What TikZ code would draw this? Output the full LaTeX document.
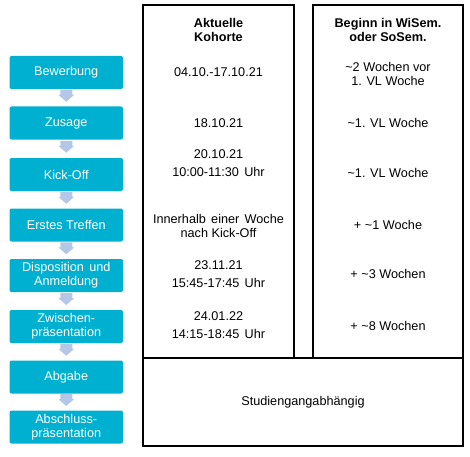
\documentclass[tikz,border=0pt]{standalone}
\usepackage{fontspec}
\setmainfont{Liberation Sans}
\usetikzlibrary{calc}
\definecolor{boxblue}{RGB}{0,176,208}
\definecolor{arrowblue}{RGB}{180,199,231}
\newcommand{\fsz}{\fontsize{9.5pt}{10.5pt}\selectfont}
\newcommand{\fdt}{\fontsize{9.5pt}{13.9pt}\selectfont}
\newcommand{\wsp}{\hspace{0.42em}}
\begin{document}
\begin{tikzpicture}[x=0.75pt,y=-0.75pt,
  stage/.style={fill=boxblue, rounded corners=1.5pt, minimum width=85.1pt, minimum height=24.75pt,
    text=white, font=\fsz, align=center, inner sep=0pt},
  txt/.style={font=\fsz, align=center, inner sep=0pt},
  hdr/.style={font=\fsz\bfseries, align=center, inner sep=0pt},
  dt/.style={font=\fdt, align=center, inner sep=0pt},
  frame/.style={draw=black, line width=0.8pt},
  flow/.style={fill=arrowblue}]
\useasboundingbox (0,0) rectangle (470,456);

% stages
\node[stage] (s1) at (66.25,72.5) {Bewerbung};
\node[stage] (s2) at (66.25,123) {Zusage};
\node[stage] (s3) at (66.25,174.5) {Kick-Off};
\node[stage] (s4) at (66.25,225) {Erstes Treffen};
\node[stage] (s5) at (66.25,275.5) {Disposition\wsp und\\Anmeldung};
\node[stage] (s6) at (66.25,326.5) {Zwischen-\\präsentation};
\node[stage] (s7) at (66.25,377) {Abgabe};
\node[stage] (s8) at (66.25,427) {Abschluss-\\präsentation};

% block arrows between stages
\foreach \a/\b in {s1/s2,s2/s3,s3/s4,s4/s5,s5/s6,s6/s7,s7/s8}{
  \path (\a.south) -- (\b.north) coordinate[midway] (m);
  \fill[flow] (m) ++(-6,-8) -- ++(12,0) -- ++(0,5) -- ++(2,0) -- ++(-8,7) -- ++(-8,-7) -- ++(2,0) -- cycle;
}

% frames
\draw[frame] (143,5) rectangle (294,358);
\draw[frame] (313,5) rectangle (463,358);
\draw[frame] (143,358) rectangle (463,446);

% headers
\node[hdr] (h1) at (218.5,30) {Aktuelle\\Kohorte};
\node[hdr] (h2) at (388,30) {Beginn in WiSem.\\oder SoSem.};

% column texts
\node[txt] (a1) at (218.5,71.7) {04.10.-17.10.21};
\node[txt] (b1) at (388,73.7) {\textasciitilde 2 Wochen vor\\1. VL Woche};
\node[txt] (a2) at (218.5,123.3) {18.10.21};
\node[txt] (b2) at (388,123.3) {\textasciitilde 1. VL Woche};
\node[dt] (a3) at (218.5,163.3) {20.10.21\\10:00-11:30\wsp Uhr};
\node[txt] (b3) at (388,173.3) {\textasciitilde 1. VL Woche};
\node[txt] (a4) at (218.5,226.2) {Innerhalb\wsp einer\wsp Woche\\nach Kick-Off};
\node[txt] (b4) at (388,225) {+ \textasciitilde 1 Woche};
\node[dt] (a5) at (218.5,274.2) {23.11.21\\15:45-17:45\wsp Uhr};
\node[txt] (b5) at (388,274.3) {+ \textasciitilde 3 Wochen};
\node[dt] (a6) at (218.5,325.2) {24.01.22\\14:15-18:45\wsp Uhr};
\node[txt] (b6) at (388,326) {+ \textasciitilde 8 Wochen};
\node[txt] (c) at (303,402.7) {Studiengangabhängig};
\end{tikzpicture}
\end{document}
